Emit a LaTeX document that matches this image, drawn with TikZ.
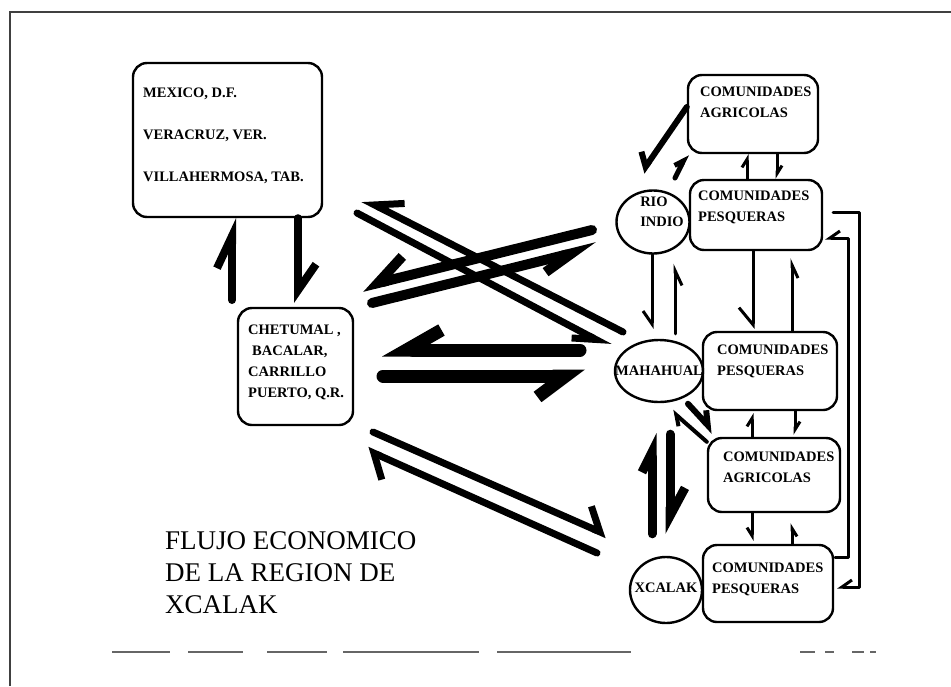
\documentclass[tikz,border=0pt]{standalone}
\usepackage{fontspec}
\setmainfont{Liberation Serif}
\usetikzlibrary{arrows.meta,shapes.geometric}

\begin{document}
\begin{tikzpicture}[x=1pt,y=-1pt,
  box/.style={draw,line width=2.4,rounded corners=14,inner sep=0},
  place/.style={draw,ellipse,line width=2.4,inner sep=0},
  lbl/.style={font=\bfseries\fontsize{14.5}{20.5}\selectfont,inner sep=0,align=left},
  shaft/.style={line width=#1,line cap=round,line join=round},
  harp/.style 2 args={-{Straight Barb[harpoon,length=#1,width=#2]}},
  harpr/.style 2 args={-{Straight Barb[harpoon,swap,length=#1,width=#2]}}]
\useasboundingbox (0,0) rectangle (951,686);
\draw[black!75,line width=1.8] (10,686) -- (10,12) -- (951,12);
\node[box,minimum width=189,minimum height=154] (mex) at (227.5,140) {};
\node[lbl,anchor=north west,font=\bfseries\fontsize{14.5}{42}\selectfont] (mext) at (143,88) {MEXICO, D.F.\\VERACRUZ, VER.\\VILLAHERMOSA, TAB.};
\node[box,minimum width=115,minimum height=117] (chet) at (295.5,366.5) {};
\node[lbl,anchor=north west,font=\bfseries\fontsize{14.5}{21}\selectfont] (chett) at (248,325) {CHETUMAL ,\\\hspace{4pt}BACALAR,\\CARRILLO\\PUERTO, Q.R.};
\node[box,minimum width=130,minimum height=78] (agr1) at (753,114) {};
\node[lbl,anchor=north west] (agr1t) at (700,87) {COMUNIDADES\\AGRICOLAS};
\node[box,minimum width=132,minimum height=70] (pes2) at (756,215) {};
\node[lbl,anchor=north west] (pes2t) at (698,191) {COMUNIDADES\\PESQUERAS};
\node[box,minimum width=134,minimum height=78] (pes3) at (770,371) {};
\node[lbl,anchor=north west] (pes3t) at (717,345) {COMUNIDADES\\PESQUERAS};
\node[box,minimum width=132,minimum height=74] (agr4) at (774,475) {};
\node[lbl,anchor=north west] (agr4t) at (723,452) {COMUNIDADES\\AGRICOLAS};
\node[box,minimum width=130,minimum height=77] (pes5) at (768,583.5) {};
\node[lbl,anchor=north west] (pes5t) at (712,563) {COMUNIDADES\\PESQUERAS};
\node[place,minimum width=73,minimum height=63] (rio) at (653,222) {};
\node[lbl] (riot) at (662,212) {RIO\\INDIO};
\node[place,minimum width=88,minimum height=62] (mah) at (659,371) {};
\node[lbl] (maht) at (659,371) {MAHAHUAL};
\node[place,minimum width=72,minimum height=66] (xca) at (666,590) {};
\node[lbl] (xcat) at (666,588) {XCALAK};
\node[anchor=north west,inner sep=0,align=left,font=\fontsize{27}{32}\selectfont] (title) at (165,531) {FLUJO ECONOMICO\\DE LA REGION DE\\XCALAK};
\coordinate (mcu) at (232,300);
\coordinate (mcd) at (298,303);
\draw[shaft=8,harp={32}{30}] (mcu) -- (mex.south -| mcu);
\draw[shaft=8,harp={26}{36}] (mex.south -| mcd) -- (mcd);
\coordinate (cm1) at (580,350);
\coordinate (cm2) at (382,350);
\coordinate (cm3) at (383,376);
\coordinate (cm4) at (585,376);
\draw[shaft=13,harpr={35}{40}] (cm1) -- (cm2);
\draw[shaft=13,harpr={28}{42}] (cm3) -- (cm4);
\coordinate (cx1) at (373,432);
\coordinate (cx2) at (607,535);
\coordinate (cx3) at (597,553);
\coordinate (cx4) at (367,450);
\draw[shaft=7,harp={18}{40}] (cx1) -- (cx2);
\draw[shaft=7,harp={18}{42}] (cx3) -- (cx4);
\coordinate (xa1) at (623,332);
\coordinate (xa2) at (363,199);
\coordinate (xb1) at (357,213);
\coordinate (xb2) at (610,347);
\coordinate (xc1) at (592,230);
\coordinate (xc2) at (362,287);
\coordinate (xd1) at (372,303);
\coordinate (xd2) at (597,247);
\draw[shaft=7,harpr={26}{30}] (xa1) -- (xa2);
\draw[shaft=7,harpr={22}{20}] (xb1) -- (xb2);
\draw[shaft=10,harpr={30}{40}] (xc1) -- (xc2);
\draw[shaft=10,harpr={30}{24}] (xd1) -- (xd2);
\coordinate (ra1) at (642,172);
\coordinate (ra2) at (675,178);
\draw[shaft=6,harpr={10}{24}] ([yshift=7]agr1.west) -- (ra1);
\draw[shaft=5,harp={8}{12}] (ra2) -- (agr1.south west);
\draw[shaft=3,harp={8}{10}] ([xshift=-9]pes2.north) -- ([xshift=-6]agr1.south);
\draw[shaft=3,harp={8}{10}] ([xshift=24]agr1.south) -- ([xshift=21]pes2.north);
\draw[shaft=3,harpr={13}{18}] ([xshift=-1]rio.south) -- ([shift={(-7,-10)}]mah.north);
\draw[shaft=3,harpr={15}{14}] ([shift={(16,-5)}]mah.north) -- ([shift={(22,9)}]rio.south);
\draw[shaft=3,harpr={17}{28}] ([xshift=-3]pes2.south) -- ([shift={(-17,-2)}]pes3.north);
\draw[shaft=3,harpr={13}{12}] ([xshift=22]pes3.north) -- ([shift={(36,7)}]pes2.south);
\draw[shaft=6,harp={12}{18}] ([shift={(-3,10)}]mah.south east) -- ([shift={(7,-5)}]agr4.north west);
\draw[shaft=4,harp={9}{14}] ([shift={(0,5)}]agr4.north west) -- ([shift={(13,8)}]mah.south);
\draw[shaft=3,harp={8}{10}] ([xshift=-22]agr4.north) -- ([shift={(-18,2)}]pes3.south);
\draw[shaft=3,harp={8}{10}] ([xshift=25]pes3.south) -- ([shift={(21,-2)}]agr4.north);
\draw[shaft=3,harpr={8}{10}] ([xshift=-22]agr4.south) -- ([shift={(-16,-3)}]pes5.north);
\draw[shaft=3,harpr={8}{10}] ([xshift=24]pes5.north) -- ([shift={(18,10)}]agr4.south);
\draw[shaft=9,harp={20}{20}] ([shift={(-14,-22)}]xca.north) -- ([shift={(-7,30)}]mah.south);
\draw[shaft=9,harp={28}{30}] ([shift={(11,31)}]mah.south) -- ([shift={(4,-22)}]xca.north);
\draw[shaft=3,harpr={10}{14}] ([shift={(10,-3)}]pes2.east) -- ++(26,0) |- ([shift={(3,3.5)}]pes5.east);
\draw[shaft=3,harpr={10}{14}] ([shift={(1,-26.5)}]pes5.east) -- ++(13,0) |- ([shift={(2,23)}]pes2.east);
\draw[black!60,line width=1.5] (112,652) -- (170,652) (188,652) -- (243,652) (267,652) -- (327,652) (343,652) -- (479,652) (497,652) -- (631,652) (800,652) -- (815,652) (825,652) -- (834,652) (852,652) -- (864,652) (870,652) -- (876,652);
\end{tikzpicture}
\end{document}
